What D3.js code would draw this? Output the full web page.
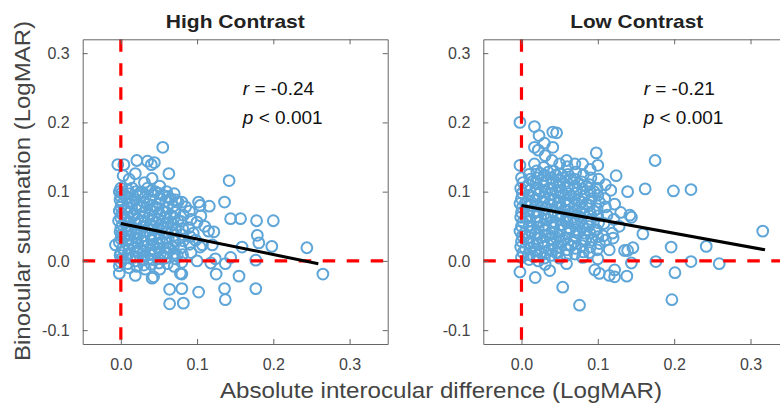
<!DOCTYPE html>
<html>
<head>
<meta charset="utf-8">
<script src="https://cdn.jsdelivr.net/npm/d3@7"></script>
<style>
  html, body { margin: 0; padding: 0; background: #fff; }
  svg { display: block; font-family: "Liberation Sans", Arial, Helvetica, sans-serif; }
</style>
</head>
<body>
<svg id="chart" width="780" height="405"></svg>
<script>
// ---------------- DATA ----------------
const panelTitles = ["High Contrast", "Low Contrast"];
const xTicks = [0, 0.1, 0.2, 0.3];
const yTicks = [-0.1, 0, 0.1, 0.2, 0.3];
const xDomain = [-0.05, 0.35];
const yDomain = [-0.12, 0.32];
const rValues = ["-0.24", "-0.21"];
const pValues = ["0.001", "0.001"];

// fitted regression line endpoints [x, y]
const highFit = [[0, 0.054], [0.259, -0.004]];
const lowFit = [[0, 0.080], [0.319, 0.016]];

// High contrast points [interocular difference, binocular summation]
const highPoints = [
  [-0.004,0.139],[0.004,0.139],[0.003,0.123],[0,0.105],[-0.002,0.1],[0.001,0.098],[0,0.093],[-0.001,0.088],
  [0.002,0.082],[0,0.078],[-0.002,0.072],[0.001,0.068],[0,0.062],[-0.003,0.058],[0.002,0.052],[0,0.048],
  [-0.001,0.042],[0.001,0.038],[0,0.032],[-0.002,0.027],[0.002,0.018],[0,0.012],[-0.001,0.008],[0.001,0.003],
  [0,-0.002],[-0.002,-0.007],[-0.007,0.023],[-0.002,-0.018],
  [0.011,0.118],[0.009,0.102],[0.012,0.097],[0.008,0.09],[0.011,0.084],[0.01,0.077],[0.012,0.07],[0.009,0.063],
  [0.01,0.057],[0.011,0.05],[0.008,0.044],[0.012,0.037],[0.01,0.03],[0.009,0.024],[0.011,0.017],[0.01,0.01],
  [0.012,0.004],[0.009,-0.004],[0.011,-0.01],
  [0.021,0.145],[0.019,0.126],[0.02,0.1],[0.022,0.094],[0.019,0.088],[0.021,0.081],[0.02,0.075],[0.018,0.067],
  [0.022,0.06],[0.02,0.054],[0.019,0.046],[0.021,0.04],[0.02,0.033],[0.022,0.026],[0.018,0.02],[0.021,0.013],
  [0.02,0.006],[0.019,0.0],[0.021,-0.008],[0.019,-0.021],
  [0.031,0.113],[0.029,0.099],[0.032,0.092],[0.03,0.085],[0.028,0.078],[0.031,0.071],[0.03,0.064],[0.032,0.057],
  [0.029,0.05],[0.031,0.043],[0.03,0.036],[0.028,0.029],[0.032,0.021],[0.03,0.014],[0.031,0.007],[0.029,0.001],
  [0.03,-0.006],[0.032,-0.012],
  [0.035,0.144],[0.044,0.142],[0.04,0.139],[0.041,0.119],[0.04,0.101],[0.042,0.095],[0.039,0.088],[0.041,0.08],
  [0.04,0.073],[0.038,0.066],[0.042,0.059],[0.04,0.052],[0.041,0.045],[0.039,0.038],[0.04,0.031],[0.042,0.024],
  [0.04,0.016],[0.038,0.009],[0.041,0.002],[0.04,-0.005],[0.041,-0.025],[0.043,-0.023],
  [0.051,0.108],[0.049,0.098],[0.052,0.09],[0.05,0.082],[0.048,0.075],[0.051,0.068],[0.05,0.06],[0.052,0.053],
  [0.049,0.046],[0.05,0.039],[0.051,0.032],[0.048,0.025],[0.05,0.018],[0.052,0.011],[0.049,0.004],[0.05,-0.003],
  [0.051,-0.012],
  [0.055,0.164],[0.063,0.126],[0.06,0.1],[0.062,0.093],[0.059,0.086],[0.061,0.077],[0.06,0.07],[0.058,0.062],
  [0.062,0.055],[0.06,0.048],[0.061,0.041],[0.059,0.033],[0.06,0.026],[0.062,0.019],[0.06,0.012],[0.058,0.004],
  [0.061,-0.004],[0.064,-0.041],[0.064,-0.062],
  [0.07,0.097],[0.072,0.088],[0.069,0.079],[0.071,0.07],[0.07,0.062],[0.068,0.053],[0.072,0.045],[0.07,0.037],
  [0.071,0.028],[0.069,0.02],[0.07,0.011],[0.072,0.003],[0.07,-0.008],
  [0.085,0.078],[0.08,0.085],[0.082,0.066],[0.079,0.057],[0.081,0.047],[0.08,0.038],[0.082,0.029],[0.079,0.019],
  [0.081,0.009],[0.08,-0.002],[0.08,-0.019],[0.08,-0.04],[0.082,-0.061],[0.078,-0.018],
  [0.09,0.072],[0.092,0.06],[0.089,0.048],[0.091,0.035],[0.09,0.024],[0.092,0.012],[0.095,0.04],[0.098,0.03],
  [0.005,0.095],[0.005,0.075],[0.006,0.055],[0.004,0.035],[0.005,0.015],[0.015,0.105],[0.015,0.085],[0.016,0.065],
  [0.014,0.045],[0.015,0.025],[0.016,0.005],[0.025,0.098],[0.025,0.078],[0.026,0.058],[0.024,0.038],[0.025,0.018],
  [0.035,0.105],[0.035,0.082],[0.036,0.062],[0.034,0.042],[0.035,0.022],[0.036,0.003],[0.045,0.1],[0.045,0.078],
  [0.046,0.056],[0.044,0.035],[0.045,0.013],[0.055,0.095],[0.055,0.072],[0.056,0.05],[0.054,0.028],[0.055,0.008],
  [0.065,0.09],[0.065,0.066],[0.066,0.042],[0.064,0.018],[0.075,0.085],[0.075,0.058],[0.076,0.032],[0.074,0.008],
  [0.142,0.116],[0.102,0.085],[0.136,0.085],[0.116,0.079],[0.104,0.080],[0.144,0.061],[0.157,0.061],[0.178,0.058],
  [0.200,0.058],[0.100,0.056],[0.115,0.043],[0.122,0.042],[0.179,0.037],[0.181,0.026],[0.198,0.021],[0.244,0.019],
  [0.159,0.020],[0.120,0.023],[0.104,0.020],[0.107,0.023],[0.100,0.000],[0.118,-0.003],[0.124,0.003],[0.137,-0.004],
  [0.144,0.005],[0.177,0.001],[0.265,-0.019],[0.155,-0.022],[0.125,-0.019],[0.102,-0.045],[0.136,-0.040],[0.177,-0.040],
  [0.137,-0.056],[0.105,0.065],[0.11,0.05]
];

// Low contrast points
const lowPoints = [
  [-0.002,0.2],[-0.002,0.138],[0,0.12],[0.002,0.113],[-0.001,0.105],[0.001,0.098],[0,0.09],[-0.002,0.083],
  [0.001,0.077],[0,0.07],[-0.001,0.063],[0.002,0.056],[0,0.05],[-0.002,0.043],[0.001,0.036],[0,0.028],
  [-0.001,0.02],[0.002,0.012],[0,0.005],[-0.002,-0.016],
  [0.01,0.125],[0.012,0.118],[0.009,0.11],[0.011,0.102],[0.01,0.095],[0.008,0.087],[0.012,0.08],[0.01,0.072],
  [0.009,0.065],[0.011,0.058],[0.01,0.05],[0.012,0.042],[0.009,0.034],[0.01,0.026],[0.011,0.018],[0.009,0.009],[0.01,0.002],
  [0.017,0.194],[0.023,0.181],[0.017,0.164],[0.022,0.16],[0.017,0.14],[0.02,0.13],[0.021,0.12],[0.019,0.112],
  [0.02,0.104],[0.022,0.096],[0.018,0.088],[0.02,0.08],[0.021,0.072],[0.019,0.064],[0.02,0.056],[0.022,0.048],
  [0.018,0.04],[0.02,0.032],[0.021,0.024],[0.019,0.016],[0.02,0.008],[0.022,0.0],[0.018,-0.024],
  [0.03,0.17],[0.031,0.152],[0.029,0.135],[0.03,0.124],[0.032,0.116],[0.029,0.108],[0.031,0.1],[0.03,0.092],
  [0.028,0.084],[0.031,0.076],[0.03,0.068],[0.032,0.06],[0.029,0.052],[0.03,0.044],[0.031,0.036],[0.029,0.028],
  [0.03,0.02],[0.032,0.012],[0.03,0.004],[0.031,-0.005],
  [0.041,0.186],[0.046,0.185],[0.041,0.164],[0.04,0.145],[0.042,0.13],[0.039,0.12],[0.041,0.112],[0.04,0.104],
  [0.038,0.096],[0.042,0.088],[0.04,0.08],[0.041,0.072],[0.039,0.064],[0.04,0.056],[0.042,0.048],[0.04,0.04],
  [0.038,0.032],[0.041,0.024],[0.04,0.016],[0.039,0.008],[0.037,-0.014],
  [0.05,0.14],[0.051,0.126],[0.049,0.117],[0.05,0.108],[0.052,0.1],[0.049,0.092],[0.05,0.084],[0.051,0.076],
  [0.048,0.068],[0.05,0.06],[0.052,0.052],[0.05,0.044],[0.049,0.036],[0.051,0.028],[0.05,0.02],[0.048,0.012],
  [0.05,0.004],[0.054,-0.038],
  [0.059,0.145],[0.06,0.136],[0.061,0.125],[0.059,0.115],[0.06,0.106],[0.062,0.097],[0.058,0.088],[0.06,0.08],
  [0.061,0.072],[0.059,0.064],[0.06,0.056],[0.062,0.048],[0.06,0.04],[0.058,0.032],[0.061,0.024],[0.06,0.016],
  [0.059,0.008],[0.059,-0.004],
  [0.07,0.14],[0.071,0.128],[0.069,0.118],[0.07,0.108],[0.072,0.098],[0.069,0.09],[0.07,0.081],[0.071,0.072],
  [0.068,0.063],[0.07,0.054],[0.072,0.045],[0.07,0.036],[0.069,0.027],[0.071,0.018],[0.07,0.01],[0.076,-0.064],
  [0.08,0.14],[0.081,0.124],[0.079,0.114],[0.08,0.104],[0.082,0.094],[0.079,0.085],[0.08,0.076],[0.081,0.067],
  [0.078,0.058],[0.08,0.049],[0.082,0.04],[0.08,0.031],[0.079,0.022],[0.081,0.013],[0.08,0.005],
  [0.09,0.132],[0.091,0.12],[0.089,0.11],[0.09,0.1],[0.092,0.09],[0.089,0.08],[0.09,0.07],[0.091,0.06],
  [0.088,0.05],[0.09,0.04],[0.092,0.03],[0.09,0.02],[0.089,0.012],
  [0.098,0.156],[0.1,0.138],[0.101,0.118],[0.099,0.105],[0.1,0.095],[0.102,0.085],[0.099,0.075],[0.1,0.065],
  [0.101,0.055],[0.098,0.045],[0.1,0.035],[0.102,0.025],[0.099,0.016],[0.1,0.003],[0.096,-0.013],[0.102,-0.018],
  [0.11,0.11],[0.117,0.102],[0.109,0.09],[0.11,0.078],[0.112,0.066],[0.108,0.054],[0.107,0.036],[0.11,0.03],
  [0.115,-0.021],[0.115,0.016],
  [0.124,0.123],[0.122,0.082],[0.121,0.06],[0.119,0.04],[0.12,0.033],[0.122,-0.013],[0.122,-0.023],
  [0.005,0.106],[0.005,0.084],[0.006,0.062],[0.004,0.04],[0.005,0.018],[0.015,0.115],[0.015,0.092],[0.016,0.07],
  [0.014,0.048],[0.015,0.026],[0.016,0.006],[0.025,0.126],[0.025,0.1],[0.026,0.078],[0.024,0.056],[0.025,0.034],
  [0.025,0.012],[0.035,0.128],[0.035,0.104],[0.036,0.082],[0.034,0.06],[0.035,0.038],[0.036,0.016],[0.045,0.124],
  [0.045,0.1],[0.046,0.078],[0.044,0.056],[0.045,0.034],[0.045,0.012],[0.055,0.12],[0.055,0.096],[0.056,0.074],
  [0.054,0.052],[0.055,0.03],[0.065,0.118],[0.065,0.094],[0.066,0.07],[0.064,0.046],[0.065,0.022],[0.075,0.112],
  [0.075,0.088],[0.076,0.064],[0.074,0.04],[0.085,0.108],[0.085,0.082],[0.086,0.056],[0.084,0.03],[0.095,0.1],
  [0.095,0.072],[0.096,0.044],
  [0.175,0.145],[0.139,0.100],[0.162,0.104],[0.199,0.101],[0.222,0.103],[0.142,0.066],[0.144,0.063],[0.159,0.039],
  [0.196,0.020],[0.242,0.021],[0.316,0.043],[0.176,-0.001],[0.222,-0.001],[0.259,-0.004],[0.201,-0.017],[0.197,-0.056],
  [0.138,-0.022],[0.144,-0.003],[0.135,0.015],[0.146,0.019],[0.139,0.015],[0.128,0.05],[0.13,0.07]
];

// ---------------- DRAWING ----------------
const svg = d3.select("#chart");
const plotTop = 39.3, plotBottom = 344;
const panels = [
  { left: 82.7, right: 387.7, pts: highPoints, fit: highFit, title: panelTitles[0], titleCx: 235.3, titleLen: 139, r: rValues[0], p: pValues[0] },
  { left: 483.3, right: 788.7, pts: lowPoints, fit: lowFit, title: panelTitles[1], titleCx: 636.7, titleLen: 133, r: rValues[1], p: pValues[1] }
];
const frameColor = "#666";
const tickTextColor = "#444";
const fmt = d => d.toFixed(1);

panels.forEach(pn => {
  const x = d3.scaleLinear().domain(xDomain).range([pn.left, pn.right]);
  const y = d3.scaleLinear().domain(yDomain).range([plotBottom, plotTop]);
  const g = svg.append("g");

  // points
  g.append("g").selectAll("circle").data(pn.pts).join("circle")
    .attr("cx", d => x(d[0])).attr("cy", d => y(d[1])).attr("r", 5.4)
    .attr("fill", "none").attr("stroke", "#5ea5d8").attr("stroke-width", 2);

  // red dashed reference lines
  g.append("line").attr("x1", x(0)).attr("x2", x(0)).attr("y1", plotTop).attr("y2", plotBottom)
    .attr("stroke", "#ff0000").attr("stroke-width", 3.2).attr("stroke-dasharray", "12.5,11.5");
  g.append("line").attr("x1", pn.left).attr("x2", pn.right).attr("y1", y(0)).attr("y2", y(0))
    .attr("stroke", "#ff0000").attr("stroke-width", 3.2).attr("stroke-dasharray", "12.5,11.5");

  // regression line
  g.append("path").datum(pn.fit)
    .attr("d", d3.line().x(d => x(d[0])).y(d => y(d[1])))
    .attr("stroke", "#000").attr("stroke-width", 3).attr("fill", "none");

  // axes (box with inward ticks)
  const axB = g.append("g").attr("transform", `translate(0,${plotBottom})`)
    .call(d3.axisBottom(x).tickValues(xTicks).tickSize(-5).tickSizeOuter(0).tickPadding(15).tickFormat(fmt));
  const axL = g.append("g").attr("transform", `translate(${pn.left},0)`)
    .call(d3.axisLeft(y).tickValues(yTicks).tickSize(-5).tickSizeOuter(0).tickPadding(13).tickFormat(fmt));
  const axT = g.append("g").attr("transform", `translate(0,${plotTop})`)
    .call(d3.axisTop(x).tickValues(xTicks).tickSize(-5).tickSizeOuter(0).tickFormat(""));
  const axR = g.append("g").attr("transform", `translate(${pn.right},0)`)
    .call(d3.axisRight(y).tickValues(yTicks).tickSize(-5).tickSizeOuter(0).tickFormat(""));
  [axB, axL, axT, axR].forEach(a => {
    a.selectAll("path, line").attr("stroke", frameColor).attr("stroke-width", 1);
    a.selectAll("text").attr("fill", tickTextColor).style("font-size", "16px")
      .style("font-family", '"Liberation Sans", Arial, Helvetica, sans-serif');
  });

  // title
  g.append("text").attr("x", pn.titleCx).attr("y", 28)
    .attr("text-anchor", "middle").attr("font-weight", "bold").attr("font-size", 19)
    .attr("fill", "#222").attr("textLength", pn.titleLen).attr("lengthAdjust", "spacingAndGlyphs")
    .text(pn.title);

  // stats annotation
  const t1 = g.append("text").attr("x", x(0.16)).attr("y", 95).attr("font-size", 19).attr("fill", "#111");
  t1.append("tspan").attr("font-style", "italic").text("r");
  t1.append("tspan").text(" = " + pn.r);
  const t2 = g.append("text").attr("x", x(0.16)).attr("y", 123.5).attr("font-size", 19).attr("fill", "#111");
  t2.append("tspan").attr("font-style", "italic").text("p");
  t2.append("tspan").text(" < " + pn.p);
});

// axis labels
svg.append("text").attr("transform", "translate(30,191) rotate(-90)")
  .attr("text-anchor", "middle").attr("font-size", 22).attr("fill", "#444")
  .attr("textLength", 340).attr("lengthAdjust", "spacingAndGlyphs")
  .text("Binocular summation (LogMAR)");
svg.append("text").attr("x", 441).attr("y", 398)
  .attr("text-anchor", "middle").attr("font-size", 22).attr("fill", "#444")
  .attr("textLength", 442).attr("lengthAdjust", "spacingAndGlyphs")
  .text("Absolute interocular difference (LogMAR)");
</script>
</body>
</html>
